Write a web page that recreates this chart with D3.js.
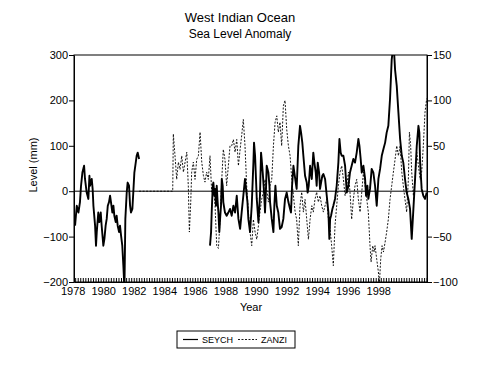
<!DOCTYPE html>
<html>
<head>
<meta charset="utf-8">
<script src="https://cdn.jsdelivr.net/npm/d3@7"></script>
<style>
  body { margin: 0; background: #fff; }
  text { font-family: "Liberation Sans", Arial, sans-serif; fill: #000; }
</style>
</head>
<body>
<svg id="chart" width="490" height="370"></svg>
<script>
// tick labels
const yearTicks = [1978, 1980, 1982, 1984, 1986, 1988, 1990, 1992, 1994, 1996, 1998];
const levelTicks = [-200, -100, 0, 100, 200, 300];
const zanziTicks = [-100, -50, 0, 50, 100, 150];
const seriesNames = ['SEYCH', 'ZANZI'];

// Seychelles, mm on left axis (null = gap in record)
const seychYear = [
  1978.16, 1978.27, 1978.38, 1978.48, 1978.55, 1978.64, 1978.75, 1978.81, 1978.92, 1979.03,
  1979.10, 1979.14, 1979.25, 1979.31, 1979.36, 1979.47, 1979.53, 1979.58, 1979.68, 1979.75,
  1979.84, 1979.90, 1980.01, 1980.08, 1980.16, 1980.23, 1980.30, 1980.38, 1980.45, 1980.51,
  1980.60, 1980.67, 1980.73, 1980.82, 1980.88, 1980.95, 1981.04, 1981.10, 1981.17, 1981.25,
  1981.32, 1981.39, 1981.45, 1981.54, 1981.60, 1981.69, 1981.76, 1981.82, 1981.91, 1981.97,
  1982.04, 1982.13, 1982.19, 1982.26, 1982.35,
  1984.00,
  1986.99, 1987.06, 1987.10, 1987.17, 1987.21, 1987.28, 1987.32, 1987.38, 1987.43, 1987.49,
  1987.54, 1987.60, 1987.65, 1987.71, 1987.76, 1987.82, 1987.86, 1987.97, 1988.08, 1988.19,
  1988.30, 1988.41, 1988.52, 1988.63, 1988.74, 1988.85, 1988.96, 1989.06, 1989.17, 1989.28,
  1989.35, 1989.44, 1989.50, 1989.61, 1989.72, 1989.83, 1989.87, 1989.94, 1990.00, 1990.05,
  1990.16, 1990.26, 1990.33, 1990.37, 1990.44, 1990.53, 1990.59, 1990.66, 1990.70, 1990.81,
  1990.88, 1990.92, 1991.03, 1991.14, 1991.20, 1991.27, 1991.36, 1991.46,
  1991.57, 1991.68, 1991.79, 1991.90, 1992.01, 1992.12, 1992.23, 1992.29, 1992.36, 1992.45,
  1992.51, 1992.60, 1992.66, 1992.77, 1992.88, 1992.95, 1993.03, 1993.10, 1993.21, 1993.32,
  1993.38, 1993.45, 1993.54, 1993.65, 1993.75, 1993.82, 1993.91, 1993.97, 1994.04, 1994.13,
  1994.19, 1994.26, 1994.34, 1994.41, 1994.52, 1994.63, 1994.74, 1994.80, 1994.85, 1994.91,
  1995.00, 1995.06, 1995.17, 1995.28, 1995.39, 1995.46, 1995.54, 1995.61, 1995.72, 1995.83,
  1995.94, 1996.05, 1996.15, 1996.26, 1996.37, 1996.48, 1996.59, 1996.70, 1996.77, 1996.85,
  1996.92, 1997.03, 1997.14, 1997.20, 1997.29, 1997.35, 1997.46, 1997.57, 1997.68, 1997.79,
  1997.90, 1998.01, 1998.12, 1998.23, 1998.34, 1998.45, 1998.55, 1998.66, 1998.77, 1998.88,
  1998.95, 1999.03, 1999.10, 1999.21, 1999.32, 1999.43, 1999.54, 1999.64, 1999.75, 1999.86,
  1999.97, 2000.08, 2000.19, 2000.30, 2000.41, 2000.52, 2000.63, 2000.69, 2000.74, 2000.84,
  2000.95, 2001.06, 2001.17
];
const seychMm = [
  -76, -32, -47, -24, 12, 41, 56, 27, -3, -17,
  34, 12, 27, 5, -32, -76, -120, -90, -47, -68,
  -47, -76, -120, -105, -76, -61, -32, -24, -10, -24,
  -47, -32, -54, -68, -54, -76, -90, -76, -98, -120,
  -164, -215, -61, -3, 19, 12, -32, -47, -39, -3,
  41, 63, 78, 85, 71,
  null,
  -120, -90, -47, 12, 19, -10, 5, -32, 12, -24,
  -47, -90, -61, -32, 27, 12, -24, -47, -54, -47,
  -39, -54, -32, -47, -10, -61, -83, -47, -10, 27,
  5, -24, -61, -90, -32, 63, 107, 78, 27, -17,
  -68, -10, 85, 71, 41, -3, -47, 12, 56, 41,
  12, -24, -61, -90, -32, 12, -32, -47,
  -83, -79, -61, -17, -3, -24, -39, -47, 12, 56,
  41, 19, 5, 100, 144, 129, 107, 78, 34, 19,
  -3, 12, 56, 27, 85, 63, 41, 12, 63, 41,
  5, 19, 34, 38, 27, -10, -47, -105, -61, -54,
  -39, -32, -17, 12, 63, 115, 85, 78, 78, 56,
  -3, 12, 41, 56, 71, 63, 85, 115, 100, 71,
  41, 56, 27, -10, 12, -17, 5, 49, 41, 12,
  -32, 27, 49, 78, 93, 107, 129, 144, 203, 290,
  310, 310, 268, 232, 173, 115, 78, 63, 27, -3,
  -17, -39, -105, -39, 27, 100, 144, 129, 63, 5,
  -10, -17, -3
];

// Zanzibar, mm on right axis
const zanziYear = [
  1982.35, 1984.55,
  1984.59, 1984.70, 1984.81, 1984.92, 1985.03, 1985.14, 1985.25, 1985.36, 1985.47, 1985.57,
  1985.64, 1985.73, 1985.79, 1985.90, 1986.01, 1986.12, 1986.23, 1986.34, 1986.45, 1986.56,
  1986.66, 1986.77, 1986.88, 1986.99, 1987.10, 1987.21, 1987.32, 1987.43, 1987.54, 1987.65,
  1987.76, 1987.86, 1987.97, 1988.08, 1988.19, 1988.30, 1988.41, 1988.52, 1988.63, 1988.74,
  1988.85, 1988.96, 1989.06, 1989.17, 1989.28, 1989.39, 1989.50, 1989.61, 1989.72, 1989.83,
  1989.94, 1990.05, 1990.16, 1990.26, 1990.37, 1990.48, 1990.59, 1990.70, 1990.81, 1990.92,
  1991.03, 1991.14, 1991.25, 1991.36, 1991.46, 1991.57, 1991.68, 1991.79, 1991.90, 1992.01,
  1992.12, 1992.23,
  1992.34, 1992.45, 1992.56, 1992.66, 1992.77, 1992.88, 1992.99, 1993.10, 1993.21, 1993.32,
  1993.43, 1993.54, 1993.65, 1993.75, 1993.86, 1993.97, 1994.08, 1994.19, 1994.30, 1994.41,
  1994.52, 1994.63, 1994.74, 1994.85, 1994.95, 1995.06, 1995.17, 1995.28, 1995.39, 1995.50,
  1995.61, 1995.72, 1995.83, 1995.94, 1996.05, 1996.15, 1996.26, 1996.37, 1996.48, 1996.59,
  1996.70, 1996.81, 1996.92, 1997.03, 1997.14, 1997.25, 1997.35, 1997.46, 1997.53, 1997.64,
  1997.73, 1997.79, 1997.90, 1998.01, 1998.07, 1998.16, 1998.25, 1998.34, 1998.45, 1998.55,
  1998.66, 1998.77, 1998.88, 1998.99, 1999.10, 1999.21, 1999.32, 1999.43, 1999.54, 1999.64,
  1999.75, 1999.86, 1999.97, 2000.04, 2000.12, 2000.19, 2000.30, 2000.41, 2000.52, 2000.63,
  2000.74, 2000.84, 2000.95, 2001.06, 2001.17
];
const zanziMm = [
  0, 0,
  63, 39, 13, 32, 24, 39, 21, 32, 43, 6,
  -45, -12, 21, 32, 13, 35, 39, 65, 32, 17,
  10, 21, 13, 39, -1, 6, -16, -60, -63, -31,
  13, 46, 35, 6, 28, 50, 50, 57, 43, 57,
  28, 46, 61, 79, 50, 6, -23, -45, -60, -31,
  -45, -53, -38, -23, -9, -1, 13, 2, -12, 6,
  13, 50, 76, 83, 65, 76, 50, 94, 100, 68,
  50, 39,
  13, -5, -23, -31, -60, -16, -1, -23, -9, -31,
  -53, -31, -16, -23, -9, -1, -12, -5, -16, -23,
  -16, -9, -31, -42, -60, -82, -38, -16, 6, 21,
  28, 13, -5, 6, 21, -1, -31, -9, 6, 13,
  -9, -23, -1, 21, 6, -9, -23, -60, -78, -60,
  -67, -60, -75, -89, -104, -75, -60, -67, -56, -45,
  -31, -9, 6, 21, 35, 50, 39, 50, 21, 6,
  -9, -23, 13, 65, 50, 21, -5, 13, 43, 28,
  13, 21, 50, 87, 102
];

const margin = {top: 55, right: 63, bottom: 88, left: 74};
const width = 490 - margin.left - margin.right;
const height = 370 - margin.top - margin.bottom;

const svg = d3.select('#chart');
const g = svg.append('g')
  .attr('transform', 'translate(' + margin.left + ',' + margin.top + ')');

const x = d3.scaleLinear().domain([1978.09, 2001.19]).range([0, width]);
const yLeft = d3.scaleLinear().domain([-200, 300]).range([height, 0]);
const yRight = d3.scaleLinear().domain([-100, 150]).range([height, 0]);

svg.append('defs').append('clipPath').attr('id', 'plot')
  .append('rect').attr('width', width).attr('height', height);

// frame
g.append('rect')
  .attr('width', width).attr('height', height)
  .attr('fill', 'none').attr('stroke', '#000').attr('stroke-width', 1);

// zero line
g.append('line')
  .attr('x1', 0).attr('x2', width)
  .attr('y1', yLeft(0)).attr('y2', yLeft(0))
  .attr('stroke', '#000').attr('stroke-width', 1);

// axes
const leftAxis = g.append('g')
  .call(d3.axisLeft(yLeft).tickValues(levelTicks).tickSize(5).tickSizeOuter(0).tickPadding(1));
const rightAxis = g.append('g')
  .attr('transform', 'translate(' + width + ',0)')
  .call(d3.axisRight(yRight).tickValues(zanziTicks).tickSize(5).tickSizeOuter(0).tickPadding(1)
    .tickFormat(d3.format('d')));
const bottomAxis = g.append('g')
  .attr('transform', 'translate(0,' + height + ')')
  .call(d3.axisBottom(x).tickValues(yearTicks).tickSize(0).tickSizeOuter(0).tickPadding(5)
    .tickFormat(d3.format('d')));
const minorAxis = g.append('g')
  .attr('transform', 'translate(0,' + height + ')')
  .call(d3.axisBottom(x).tickValues(d3.range(1978 + 1 / 6, 2001.19, 1 / 6)).tickSize(-4)
    .tickSizeOuter(0).tickFormat(''));
bottomAxis.select('.domain').remove();

[leftAxis, rightAxis, bottomAxis, minorAxis].forEach(a => {
  a.selectAll('text').style('font-size', '11px');
  a.selectAll('line').attr('stroke', '#000');
  a.select('.domain').attr('stroke', '#000');
  a.attr('font-family', null);
});

// series
const seych = seychYear.map((d, i) => ({year: d, value: seychMm[i]}));
const zanzi = zanziYear.map((d, i) => ({year: d, value: zanziMm[i]}));

const lineLeft = d3.line()
  .defined(d => d.value !== null)
  .x(d => x(d.year)).y(d => yLeft(d.value));
const lineRight = d3.line()
  .defined(d => d.value !== null)
  .x(d => x(d.year)).y(d => yRight(d.value));

const plot = g.append('g').attr('clip-path', 'url(#plot)');
plot.append('path').datum(zanzi)
  .attr('d', lineRight)
  .attr('fill', 'none').attr('stroke', '#000')
  .attr('stroke-width', 0.9).attr('stroke-dasharray', '2,1.5');
plot.append('path').datum(seych)
  .attr('d', lineLeft)
  .attr('fill', 'none').attr('stroke', '#000')
  .attr('stroke-width', 1.9).attr('stroke-linejoin', 'round');

// titles
svg.append('text').attr('x', 240).attr('y', 22).attr('text-anchor', 'middle')
  .style('font-size', '13px').text('West Indian Ocean');
svg.append('text').attr('x', 240).attr('y', 38).attr('text-anchor', 'middle')
  .style('font-size', '12px').text('Sea Level Anomaly');
svg.append('text')
  .attr('transform', 'translate(37,165) rotate(-90)')
  .attr('text-anchor', 'middle').style('font-size', '11px').text('Level (mm)');
svg.append('text').attr('x', 251).attr('y', 311).attr('text-anchor', 'middle')
  .style('font-size', '11px').text('Year');

// legend
const legend = svg.append('g').attr('transform', 'translate(177,331)');
legend.append('rect').attr('width', 118).attr('height', 17)
  .attr('fill', 'none').attr('stroke', '#000');
const dashes = [null, '2,1.5'];
const widths = [1.2, 0.9];
const itemX = [6, 61];
const lineLen = [15, 19];
seriesNames.forEach((name, i) => {
  const item = legend.append('g').attr('transform', 'translate(' + itemX[i] + ',0)');
  item.append('line').attr('x1', 0).attr('x2', lineLen[i]).attr('y1', 8.5).attr('y2', 8.5)
    .attr('stroke', '#000').attr('stroke-width', widths[i]).attr('stroke-dasharray', dashes[i]);
  item.append('text').attr('x', lineLen[i] + 4).attr('y', 12).style('font-size', '9px').text(name);
});
</script>
</body>
</html>
